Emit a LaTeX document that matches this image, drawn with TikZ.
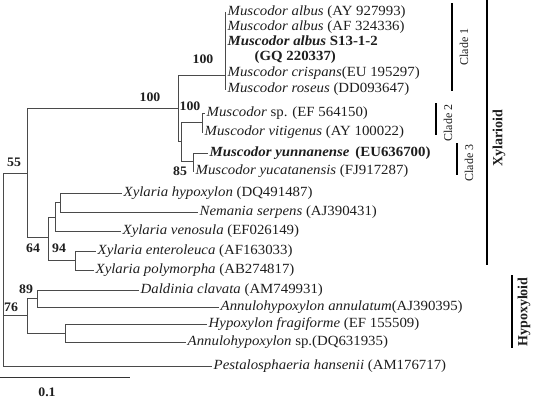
\documentclass[tikz,border=0pt]{standalone}
\usepackage{fontspec}
\setmainfont{Liberation Serif}
\newfontfamily\leaffont{Liberation Serif}[FakeStretch=1.06]
\definecolor{txt}{HTML}{1E1E1E}
\definecolor{treeline}{HTML}{4A4A4A}
\begin{document}
\begin{tikzpicture}[x=1pt,y=-1pt,
  br/.style={draw=treeline, line width=0.8pt},
  leaf/.style={anchor=west, inner xsep=1.5pt, inner ysep=0pt, text height=9pt, text depth=3pt, text=txt, font=\leaffont\fontsize{14}{14}\selectfont},
  bs/.style={inner sep=0pt, text=txt, font=\leaffont\bfseries\fontsize{13}{13}\selectfont},
  bar/.style={draw=black, line width=1.6pt},
  grp/.style={rotate=90, inner sep=0pt, text=txt},
  ]
\useasboundingbox (0,0) rectangle (534,399);

% leaves
\node[leaf] (l1) at (226,12) {\textit{Muscodor albus} (AY 927993)};
\node[leaf] (l2) at (226,27) {\textit{Muscodor albus} (AF 324336)};
\node[leaf] (l3) at (226,42) {\textbf{\textit{Muscodor albus} S13-1-2}};
\node[leaf] (l3b) at (253,57) {\textbf{(GQ 220337)}};
\node[leaf] (l4) at (226,73) {\textit{Muscodor crispans}(EU 195297)};
\node[leaf] (l5) at (226,89) {\textit{Muscodor roseus} (DD093647)};
\node[leaf] (l6) at (205,113) {\textit{Muscodor} sp. (EF 564150)};
\node[leaf] (l7) at (203,132) {\textit{Muscodor vitigenus} (AY 100022)};
\node[leaf] (l8) at (208,153) {\textbf{\textit{Muscodor yunnanense}\hspace{6pt}(EU636700)}};
\node[leaf] (l9) at (194,171) {\textit{Muscodor yucatanensis} (FJ917287)};
\node[leaf] (l10) at (122,193) {\textit{Xylaria hypoxylon} (DQ491487)};
\node[leaf] (l11) at (198,212) {\textit{Nemania serpens} (AJ390431)};
\node[leaf] (l12) at (121,231) {\textit{Xylaria venosula} (EF026149)};
\node[leaf] (l13) at (96,251) {\textit{Xylaria enteroleuca} (AF163033)};
\node[leaf] (l14) at (94,270) {\textit{Xylaria polymorpha} (AB274817)};
\node[leaf] (l15) at (139,290) {\textit{Daldinia clavata} (AM749931)};
\node[leaf] (l16) at (219,307) {\textit{Annulohypoxylon annulatum}(AJ390395)};
\node[leaf] (l17) at (207,324) {\textit{Hypoxylon fragiforme} (EF 155509)};
\node[leaf] (l18) at (186,342) {\textit{Annulohypoxylon} sp.(DQ631935)};
\node[leaf] (l19) at (212,366) {\textit{Pestalosphaeria hansenii} (AM176717)};

% internal nodes
\coordinate (root) at (3,270);
\coordinate (n55) at (27,173);
\coordinate (nMus) at (178,108);
\coordinate (nC1) at (225,75);
\coordinate (nC23) at (181,141);
\coordinate (nC2) at (202,122);
\coordinate (nC3) at (193,161);
\coordinate (n64) at (48,237);
\coordinate (nXv) at (55,217);
\coordinate (nXh) at (60,202);
\coordinate (n94) at (75,260);
\coordinate (n76) at (27,315);
\coordinate (n89) at (37,298);
\coordinate (nHf) at (65,333);

% branches
\draw[br] (root) |- (n55);
\draw[br] (root) |- (n76);
\draw[br] (root) |- (l19.west);
\draw[br] (n55) |- (nMus);
\draw[br] (n55) |- (n64);
\draw[br] (nMus) |- (nC1);
\draw[br] (nMus) |- (nC23);
\foreach \l in {l1,l2,l3,l4,l5} \draw[br] (nC1) |- (\l.west);
\draw[br] (nC23) |- (nC2);
\draw[br] (nC23) |- (nC3);
\draw[br] (nC2) |- (l6.west);
\draw[br] (nC2) |- (l7.west);
\draw[br] (nC3) |- (l8.west);
\draw[br] (nC3) |- (l9.west);
\draw[br] (n64) |- (nXv);
\draw[br] (n64) |- (n94);
\draw[br] (nXv) |- (nXh);
\draw[br] (nXv) |- (l12.west);
\draw[br] (nXh) |- (l10.west);
\draw[br] (nXh) |- (l11.west);
\draw[br] (n94) |- (l13.west);
\draw[br] (n94) |- (l14.west);
\draw[br] (n76) |- (n89);
\draw[br] (n76) |- (nHf);
\draw[br] (n89) |- (l15.west);
\draw[br] (n89) |- (l16.west);
\draw[br] (nHf) |- (l17.west);
\draw[br] (nHf) |- (l18.west);

% bootstrap values
\node[bs] (b1) at (150,97) {100};
\node[bs] (b2) at (203,59) {100};
\node[bs] (b3) at (190,106) {100};
\node[bs] (b4) at (180,171) {85};
\node[bs] (b5) at (14,162) {55};
\node[bs] (b6) at (33,248) {64};
\node[bs] (b7) at (59,248) {94};
\node[bs] (b8) at (26,289) {89};
\node[bs] (b9) at (11,307) {76};

% scale bar
\coordinate (s0) at (0,377);
\coordinate (s1) at (130,377);
\draw[br, draw=black!80] (s0) -- (s1);
\node[bs] (sl) at (47,392) {0.1};

% group bars
\coordinate (c1a) at (452,3); \coordinate (c1b) at (452,91);
\draw[bar] (c1a) -- (c1b);
\node[grp, font=\fontsize{12}{12}\selectfont] (g1) at (464,47) {Clade 1};
\coordinate (c2a) at (436,103); \coordinate (c2b) at (436,135);
\draw[bar] (c2a) -- (c2b);
\node[grp, font=\fontsize{12}{12}\selectfont] (g2) at (448,123) {Clade 2};
\coordinate (c3a) at (457,143); \coordinate (c3b) at (457,175);
\draw[bar] (c3a) -- (c3b);
\node[grp, font=\fontsize{12}{12}\selectfont] (g3) at (469,163) {Clade 3};
\coordinate (xa) at (487,0); \coordinate (xb) at (487,265);
\draw[bar] (xa) -- (xb);
\node[grp, font=\bfseries\fontsize{14}{14}\selectfont] (g4) at (499,138) {Xylarioid};
\coordinate (ha) at (512,275); \coordinate (hb) at (512,348);
\draw[bar] (ha) -- (hb);
\node[grp, font=\bfseries\fontsize{14}{14}\selectfont] (g5) at (524,312) {Hypoxyloid};
\end{tikzpicture}
\end{document}
